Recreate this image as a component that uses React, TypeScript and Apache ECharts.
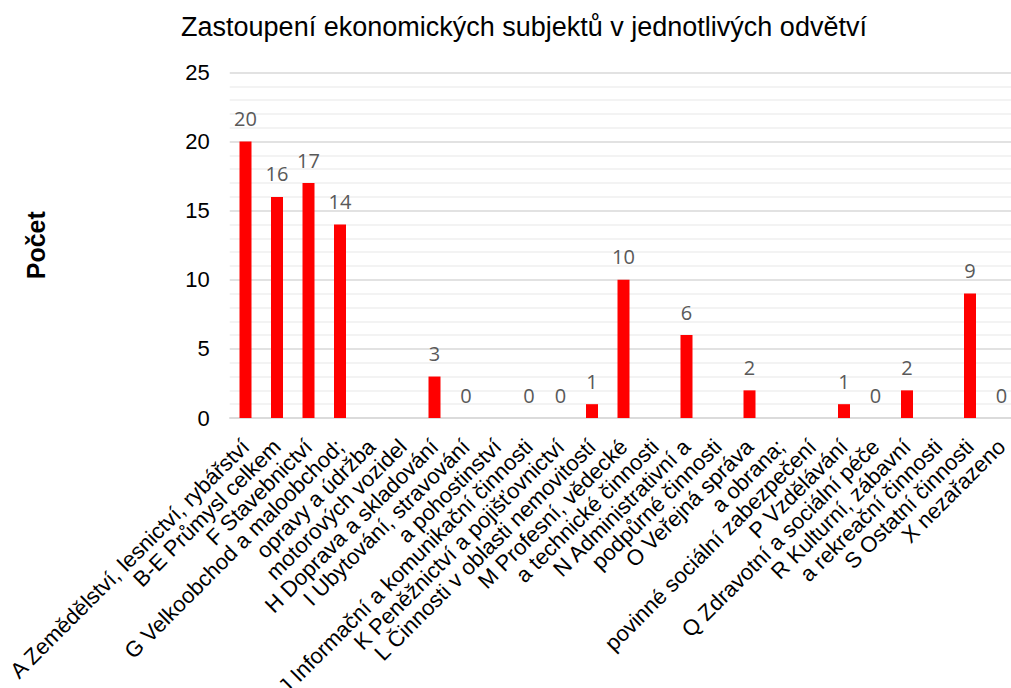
import React, { useEffect, useRef } from "react";
import * as echarts from "echarts";

const titleText = "Zastoupení ekonomických subjektů v jednotlivých odvětví";
const yAxisName = "Počet";

const categories: string[] = [
  "A Zemědělství, lesnictví, rybářství",
  "B-E Průmysl celkem",
  "F Stavebnictví",
  "G Velkoobchod a maloobchod;",
  "opravy a údržba",
  "motorových vozidel",
  "H Doprava a skladování",
  "I Ubytování, stravování",
  "a pohostinství",
  "J Informační a komunikační činnosti",
  "K Peněžnictví a pojišťovnictví",
  "L Činnosti v oblasti nemovitostí",
  "M Profesní, vědecké",
  "a technické činnosti",
  "N Administrativní a",
  "podpůrné činnosti",
  "O Veřejná správa",
  "a obrana;",
  "povinné sociální zabezpečení",
  "P Vzdělávání",
  "Q Zdravotní a sociální péče",
  "R Kulturní, zábavní",
  "a rekreační činnosti",
  "S Ostatní činnosti",
  "X nezařazeno",
];

const counts: (number | null)[] = [
  20, 16, 17, 14, null, null, 3, 0, null, 0, 0, 1, 10, null, 6, null, 2, null, null, 1, 0, 2, null, 9, 0,
];

const yMin = 0;
const yMax = 25;
const yInterval = 5;

export default function App() {
  const ref = useRef<HTMLDivElement>(null);

  useEffect(() => {
    if (!ref.current) return;
    const chart = echarts.init(ref.current, null, { renderer: "svg" });
    chart.setOption({
      animation: false,
      backgroundColor: "#ffffff",
      title: {
        text: titleText,
        left: 519,
        textAlign: "center",
        top: 8,
        textStyle: {
          fontFamily: "Liberation Sans, Arial, sans-serif",
          fontSize: 27,
          fontWeight: "normal",
          color: "#000000",
        },
      },
      grid: {
        left: 229.75,
        top: 72.5,
        width: 787.5,
        height: 345.5,
        containLabel: false,
        outerBoundsMode: "none",
      },
      xAxis: {
        type: "category",
        data: categories,
        axisLine: { show: true, lineStyle: { color: "#d9d9d9", width: 1.5 } },
        axisTick: { show: false },
        axisLabel: {
          interval: 0,
          rotate: 45,
          margin: 25,
          fontFamily: "Liberation Sans, Arial, sans-serif",
          fontSize: 22,
          color: "#000000",
        },
      },
      yAxis: {
        type: "value",
        min: yMin,
        max: yMax,
        interval: yInterval,
        name: yAxisName,
        nameLocation: "middle",
        nameRotate: 90,
        nameGap: 181,
        nameTextStyle: {
          fontFamily: "Liberation Sans, Arial, sans-serif",
          fontSize: 25,
          fontWeight: "bold",
          color: "#000000",
        },
        axisLine: { show: false },
        axisTick: { show: false },
        axisLabel: {
          margin: 20,
          fontFamily: "Liberation Sans, Arial, sans-serif",
          fontSize: 22,
          color: "#000000",
        },
        splitLine: { show: true, lineStyle: { color: "#d9d9d9", width: 1.5 } },
        minorTick: { show: false, splitNumber: 5 },
        minorSplitLine: { show: true, lineStyle: { color: "#efefef", width: 1.5 } },
      },
      series: [
        {
          type: "bar",
          data: counts,
          barWidth: 12,
          itemStyle: { color: "#ff0000" },
          label: {
            show: true,
            position: "top",
            distance: 13,
            fontFamily: "Open Sans, Noto Sans, sans-serif",
            fontSize: 20,
            color: "#595959",
          },
        },
      ],
    });
    return () => chart.dispose();
  }, []);

  return (
    <div
      ref={ref}
      style={{ position: "fixed", left: 0, top: 0, width: 1011, height: 688, background: "#fff" }}
    />
  );
}
